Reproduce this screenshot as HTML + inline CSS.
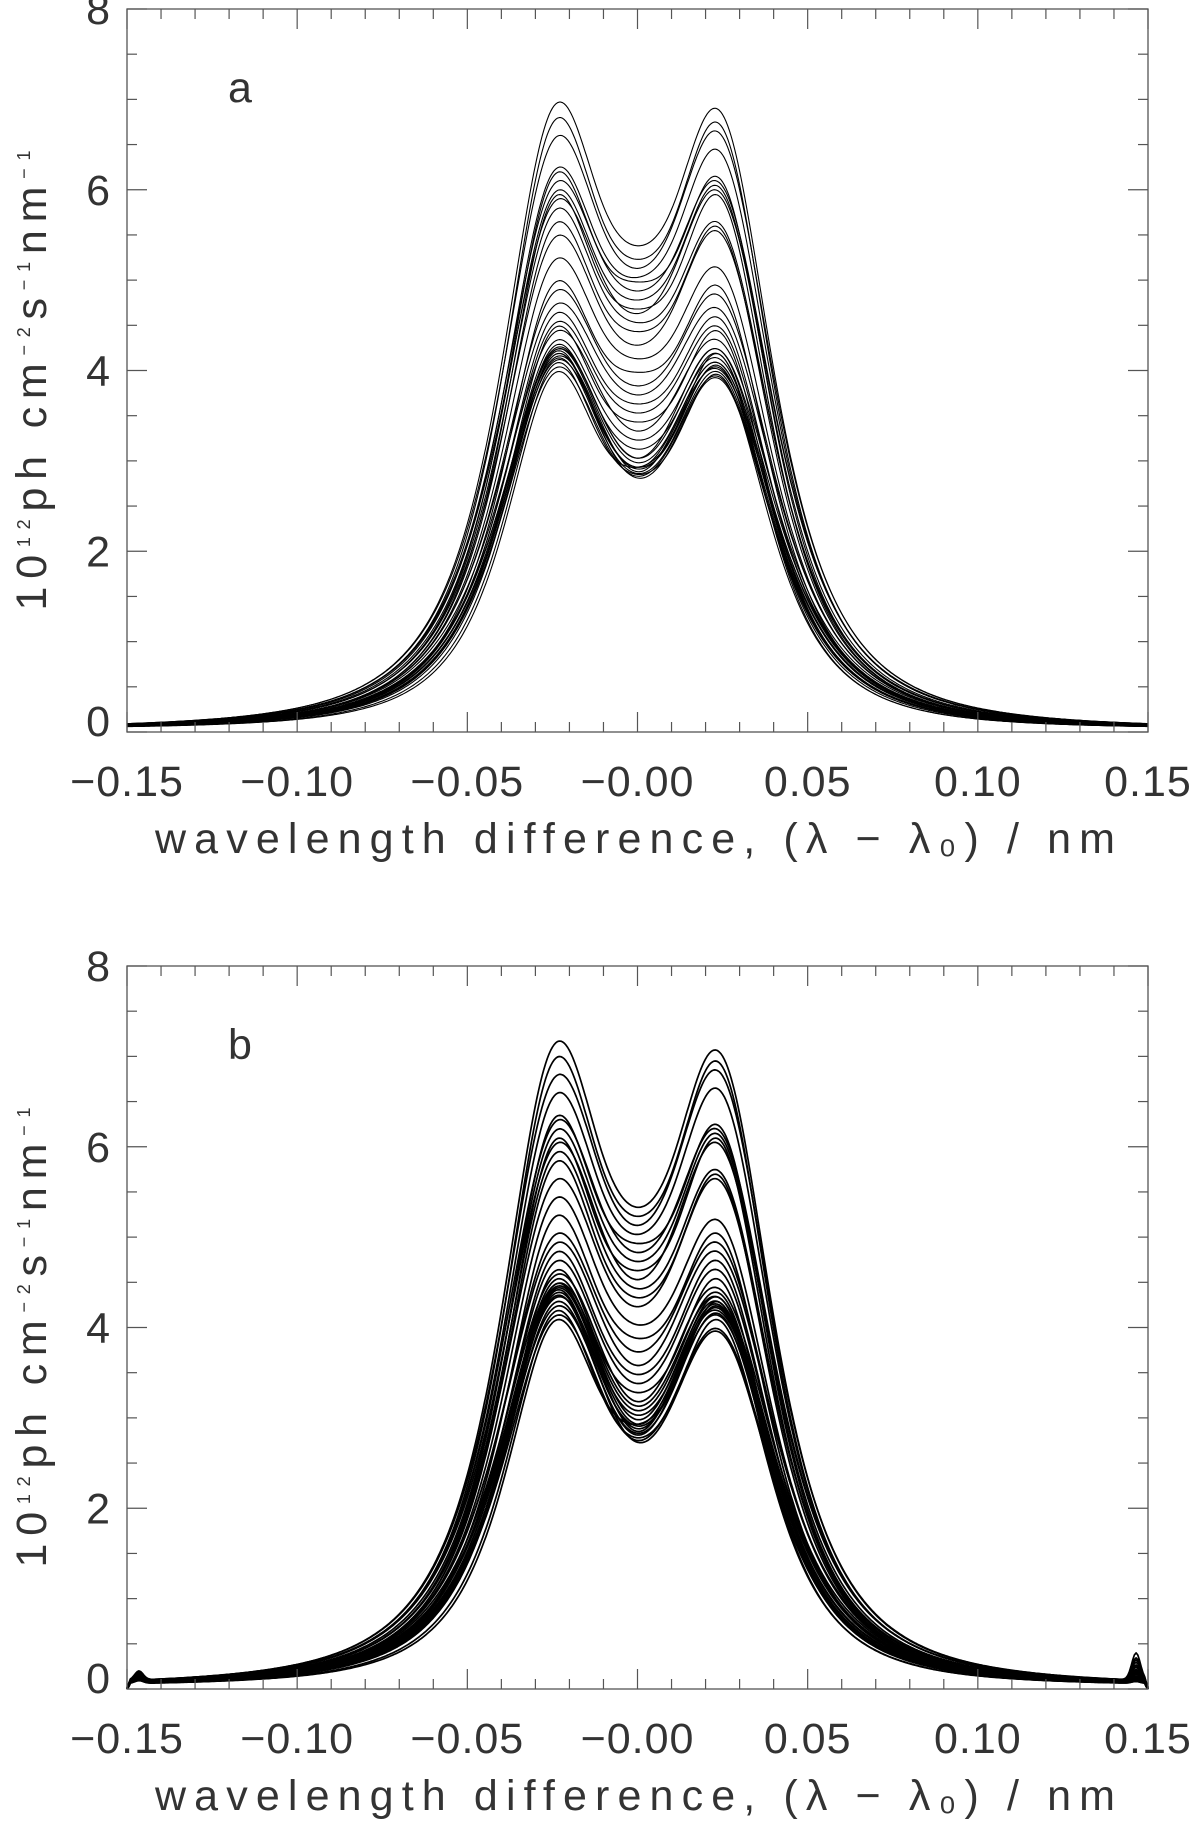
<!DOCTYPE html>
<html><head><meta charset="utf-8"><style>
html,body{margin:0;padding:0;background:#fff;}
svg{display:block;font-family:"Liberation Sans",sans-serif;}
.tl{font-size:43px;fill:#333;}
</style></head><body>
<svg id="fig" width="1200" height="1824" viewBox="0 0 1200 1824" xmlns="http://www.w3.org/2000/svg"></svg>
<script>
// ---------- data ----------
const xTicks = [-0.15,-0.10,-0.05,0.00,0.05,0.10,0.15];
const xTickLabels = ["\u22120.15","\u22120.10","\u22120.05","\u22120.00","0.05","0.10","0.15"];
const yTicks = [0,2,4,6,8];
const yTickLabels = ["0","2","4","6","8"];
// panel a: left peak, right peak, central dip, width factor
const aPeakL = [6.92,6.75,6.55,6.20,6.15,6.05,5.95,5.90,5.85,5.75,5.60,5.45,5.20,4.95,4.85,4.70,4.60,4.50,4.45,4.40,4.30,4.25,4.22,4.20,4.18,4.15,4.12,4.10,4.08,4.05,4.00,3.95,4.20,4.15];
const aPeakR = [6.85,6.70,6.60,6.40,6.10,6.05,6.00,5.90,5.95,5.60,5.55,5.50,5.10,4.90,4.80,4.65,4.55,4.45,4.40,4.30,4.20,4.15,4.10,4.05,4.02,4.00,3.98,3.95,4.05,3.92,3.90,4.15,4.20,3.88];
const aDip   = [5.35,5.20,5.10,5.00,4.95,4.85,4.75,4.65,4.60,4.50,4.40,4.25,4.10,3.95,3.80,3.70,3.60,3.50,3.40,3.30,3.20,3.10,3.00,2.95,2.90,2.88,2.85,2.83,2.90,2.82,2.80,2.90,3.00,2.78];
const aWidth = [1.00,0.98,1.02,1.00,0.97,1.03,1.00,0.96,1.04,1.00,0.98,1.02,1.00,0.97,1.03,1.05,0.99,1.01,0.95,1.06,1.00,0.98,1.04,1.02,0.96,1.00,1.07,0.99,1.03,0.94,1.01,0.92,1.05,1.00];
// panel b
const bPeakL = [7.12,6.95,6.75,6.55,6.30,6.25,6.15,6.05,6.00,5.90,5.80,5.60,5.40,5.20,5.00,4.90,4.80,4.70,4.60,4.55,4.50,4.45,4.42,4.40,4.38,4.35,4.30,4.25,4.20,4.15,4.10,4.05,4.45,4.32];
const bPeakR = [7.02,6.90,6.80,6.60,6.20,6.15,6.10,6.05,6.00,5.70,5.65,5.60,5.15,5.00,4.90,4.80,4.70,4.60,4.50,4.40,4.35,4.30,4.25,4.22,4.20,4.18,4.15,4.12,4.10,4.05,3.95,4.25,4.30,3.92];
const bDip   = [5.30,5.20,5.10,5.00,4.90,4.80,4.70,4.60,4.50,4.40,4.30,4.20,4.00,3.85,3.70,3.55,3.45,3.35,3.25,3.15,3.05,3.00,2.95,2.90,2.88,2.85,2.82,2.80,2.78,2.75,2.72,2.90,3.10,2.70];
const bWidth = [1.00,0.98,1.02,1.00,0.97,1.03,1.00,0.96,1.04,1.00,0.98,1.02,1.00,0.97,1.03,1.05,0.99,1.01,0.95,1.06,1.00,0.98,1.04,1.02,0.96,1.00,1.07,0.99,1.03,0.94,1.01,0.92,1.05,1.00];
const bEdgeR = [0.30,0.25,0.22,0.20,0.18,0.15,0.15,0.12,0.12,0.10,0.10,0.08,0.08,0.06,0.06,0.05,0.05,0.05,0.04,0.04,0.04,0.03,0.03,0.03,0.03,0.02,0.02,0.02,0.02,0.02,0.02,0.02,0.02,0.02];
const bEdgeL = [0.10,0.09,0.09,0.08,0.08,0.07,0.07,0.07,0.06,0.06,0.06,0.05,0.05,0.05,0.05,0.04,0.04,0.04,0.04,0.04,0.03,0.03,0.03,0.03,0.03,0.03,0.03,0.03,0.03,0.03,0.03,0.03,0.03,0.03];

// ---------- drawing ----------
const NS = "http://www.w3.org/2000/svg";
const svg = document.getElementById('fig');
function mk(tag, attrs, parent){ const e=document.createElementNS(NS,tag); for(const k in attrs) e.setAttribute(k,attrs[k]); (parent||svg).appendChild(e); return e; }

const L=127, R=1148, XMIN=-0.15, XMAX=0.15, YMIN=0, YMAX=8;
function g(d,w){ const gam=0.0248*w; return Math.pow(1+(d/gam)*(d/gam),-1.5); }
function solve3(M,v){
  const A=M.map((r,i)=>r.concat([v[i]]));
  for(let i=0;i<3;i++){ let p=i; for(let j=i+1;j<3;j++) if(Math.abs(A[j][i])>Math.abs(A[p][i])) p=j; [A[i],A[p]]=[A[p],A[i]];
    for(let j=0;j<3;j++) if(j!==i){ const f=A[j][i]/A[i][i]; for(let k=i;k<4;k++) A[j][k]-=f*A[i][k]; } }
  return [A[0][3]/A[0][0],A[1][3]/A[1][1],A[2][3]/A[2][2]];
}
function panel(name, T, B, label, PL, PR, DP, WD, EL, ER, sw){
  const gp=mk('g',{});
  
  
  const sx=x=>L+(x-XMIN)/(XMAX-XMIN)*(R-L);
  const sy=y=>B-(y-YMIN)/(YMAX-YMIN)*(B-T);
  const c=0.024, s=0.012;
  const G=x=>Math.exp(-(x/s)*(x/s));
  const cg=mk('g',{fill:'none',stroke:'#000','stroke-width':sw,'stroke-linejoin':'round'},gp);
  
  
  for(let i=0;i<PL.length;i++){
    const w=WD[i];
    const M=[[1,g(2*c,w),G(c)],[g(c,w),g(c,w),1],[g(2*c,w),1,G(c)]];
    const [a,b,k]=solve3(M,[PL[i],DP[i],PR[i]]);
    let d='';
    for(let j=0;j<=600;j++){
      const x=XMIN+(XMAX-XMIN)*j/600;
      let y=a*g(x+c,w)+b*g(x-c,w)+k*G(x)+0.03;
      if(ER){ y+=ER[i]*Math.exp(-Math.pow((x-0.1465)/0.0018,2)) + EL[i]*Math.exp(-Math.pow((x+0.1465)/0.0018,2)); if(x>0.149||x<-0.149) y=Math.max(0,y-0.08*(Math.abs(x)-0.149)/0.001); }
      y=Math.max(0,Math.min(8,y));
      d+=(j?'L':'M')+sx(x).toFixed(1)+' '+sy(y).toFixed(1);
    }
    const p=mk('path',{d:d},cg);
    
    
  }
  const fr=mk('rect',{x:L,y:T,width:R-L,height:B-T,fill:'none',stroke:'#555','stroke-width':1.3},gp);
  
  
  const tg=mk('g',{stroke:'#555','stroke-width':1.2},gp);
  
  
  for(let m=0;m<=30;m++){
    const x=sx(XMIN+m*0.01), len=(m%5===0)?20:10;
    mk('line',{x1:x,y1:B,x2:x,y2:B-len},tg); mk('line',{x1:x,y1:T,x2:x,y2:T+len},tg);
  }
  for(let m=0;m<=16;m++){
    const y=sy(m*0.5), len=(m%4===0)?20:10;
    mk('line',{x1:L,y1:y,x2:L+len,y2:y},tg); mk('line',{x1:R,y1:y,x2:R-len,y2:y},tg);
  }
  xTicks.forEach((v,i)=>{ const t=mk('text',{x:sx(v),y:B+64,'text-anchor':'middle',class:'tl','letter-spacing':'1'},gp); t.textContent=xTickLabels[i];
      });
  yTicks.forEach((v,i)=>{ const t=mk('text',{x:110,y:sy(v)+(v===0?4:15),'text-anchor':'end',class:'tl'},gp); t.textContent=yTickLabels[i];
      });
  const xt=mk('text',{x:155,y:B+121,class:'tl',textLength:960,lengthAdjust:'spacing'},gp);
  xt.textContent='wavelength difference, (\u03bb \u2212 \u03bb\u2080)  / nm';
   
  const cy=(T+B)/2+10;
  const yt=mk('text',{x:0,y:0,class:'tl',transform:`translate(46 ${cy}) rotate(-90)`,'text-anchor':'middle',textLength:460,lengthAdjust:'spacing'},gp);
  yt.innerHTML='10<tspan dy="-16" font-size="18">12</tspan><tspan dy="16">ph cm</tspan><tspan dy="-16" font-size="18">\u22122</tspan><tspan dy="16">s</tspan><tspan dy="-16" font-size="18">\u22121</tspan><tspan dy="16">nm</tspan><tspan dy="-16" font-size="18">\u22121</tspan>';
   
  const pl=mk('text',{x:228,y:T+93,class:'tl','font-size':'44'},gp); pl.textContent=label;
   
}
panel('panel-a',9,732,'a',aPeakL,aPeakR,aDip,aWidth,null,null,1.1);
panel('panel-b',966,1689,'b',bPeakL,bPeakR,bDip,bWidth,bEdgeL,bEdgeR,1.7);
</script>
</body></html>
